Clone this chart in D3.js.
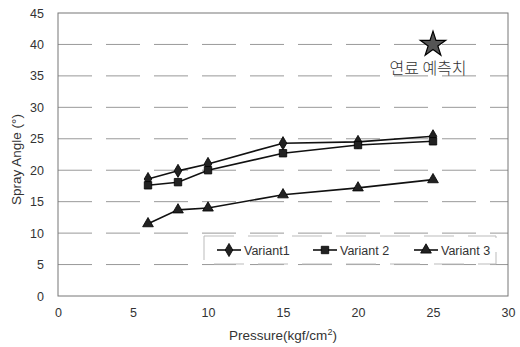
<!DOCTYPE html>
<html>
<head>
<meta charset="utf-8">
<script src="https://cdn.jsdelivr.net/npm/d3@7"></script>
<style>
  body { margin: 0; background: #fff; }
  text { font-family: "Liberation Sans", Arial, sans-serif; fill: #333; }
</style>
</head>
<body>
<div id="chart"></div>
<script>
const pressures = [6, 8, 10, 15, 20, 25];
const variant1 = [18.6, 19.9, 21.0, 24.3, 24.5, 25.4];
const variant2 = [17.6, 18.1, 20.0, 22.7, 24.0, 24.6];
const variant3 = [11.5, 13.7, 14.0, 16.1, 17.2, 18.5];
const seriesNames = ["Variant1", "Variant 2", "Variant 3"];
const xTicks = [0, 5, 10, 15, 20, 25, 30];
const yTicks = [0, 5, 10, 15, 20, 25, 30, 35, 40, 45];
const predicted = { x: 25, y: 40, label: "연료 예측치" };

const width = 520, height = 347;
const margin = { top: 13, right: 12, bottom: 51, left: 58 };

const svg = d3.select("#chart").append("svg")
  .attr("width", width)
  .attr("height", height);

const x = d3.scaleLinear().domain([0, 30]).range([margin.left, width - margin.right]);
const y = d3.scaleLinear().domain([0, 45]).range([height - margin.bottom, margin.top]);

// grid lines
svg.append("g")
  .selectAll("line")
  .data(yTicks.slice(1, -1))
  .join("line")
  .attr("x1", x(0)).attr("x2", x(30))
  .attr("y1", d => y(d)).attr("y2", d => y(d))
  .attr("stroke", "#999")
  .attr("stroke-width", 1)
  .attr("stroke-dasharray", "34,14");

// plot frame
svg.append("rect")
  .attr("x", x(0)).attr("y", y(45))
  .attr("width", x(30) - x(0)).attr("height", y(0) - y(45))
  .attr("fill", "none")
  .attr("stroke", "#777")
  .attr("stroke-width", 1);

// axes
const xAxis = svg.append("g")
  .attr("transform", `translate(0,${y(0)})`)
  .call(d3.axisBottom(x).tickValues(xTicks).tickSize(0).tickPadding(12));
xAxis.select(".domain").remove();
xAxis.selectAll("text").style("font-size", "12.5px").attr("fill", "#333");

const yAxis = svg.append("g")
  .attr("transform", `translate(${x(0)},0)`)
  .call(d3.axisLeft(y).tickValues(yTicks).tickSize(0).tickPadding(14));
yAxis.select(".domain").remove();
yAxis.selectAll("text").style("font-size", "12.5px").attr("fill", "#333");

svg.append("text")
  .attr("x", (x(0) + x(30)) / 2)
  .attr("y", 340)
  .attr("text-anchor", "middle")
  .style("font-size", "13.5px")
  .html('Pressure(kgf/cm<tspan dy="-5" font-size="9px">2</tspan><tspan dy="5">)</tspan>');

svg.append("text")
  .attr("transform", `translate(21,${(y(0) + y(45)) / 2 + 5}) rotate(-90)`)
  .attr("text-anchor", "middle")
  .style("font-size", "13.5px")
  .text("Spray Angle (°)");

// series
const series = [variant1, variant2, variant3].map((vals, i) => ({
  name: seriesNames[i],
  symbol: [d3.symbolDiamond, d3.symbolSquare, d3.symbolTriangle][i],
  size: [50, 55, 50][i],
  points: pressures.map((p, j) => ({ x: p, y: vals[j] }))
}));

const line = d3.line().x(d => x(d.x)).y(d => y(d.y));

const sg = svg.append("g").selectAll("g").data(series).join("g");
sg.append("path")
  .attr("d", d => line(d.points))
  .attr("fill", "none")
  .attr("stroke", "#111")
  .attr("stroke-width", 1.6);
sg.each(function(s) {
  d3.select(this).selectAll("path.pt")
    .data(s.points)
    .join("path")
    .attr("class", "pt")
    .attr("transform", d => `translate(${x(d.x)},${y(d.y)})`)
    .attr("d", d3.symbol().type(s.symbol).size(s.size))
    .attr("fill", "#222")
    .attr("stroke", "#000")
    .attr("stroke-width", 0.8);
});

// predicted star
svg.append("path")
  .attr("transform", `translate(${x(predicted.x)},${y(predicted.y)})`)
  .attr("d", d3.symbol().type(d3.symbolStar).size(200))
  .attr("fill", "#555")
  .attr("stroke", "#000")
  .attr("stroke-width", 1.2);
svg.append("text")
  .attr("x", x(predicted.x) - 5)
  .attr("y", y(predicted.y) + 30)
  .attr("text-anchor", "middle")
  .style("font-family", "'Noto Sans CJK KR', sans-serif")
  .style("font-size", "16px")
  .style("font-weight", "300")
  .attr("fill", "#333")
  .text(predicted.label);

// legend
const legend = svg.append("g");
legend.append("rect")
  .attr("x", 204).attr("y", 236)
  .attr("width", 292).attr("height", 28)
  .attr("fill", "#fff")
  .attr("stroke", "#bbb")
  .attr("stroke-dasharray", "30,14");
const legX = [217, 313, 414];
const li = legend.selectAll("g.item").data(series).join("g")
  .attr("class", "item")
  .attr("transform", (d, i) => `translate(${legX[i]},250)`);
li.append("line")
  .attr("x1", 0).attr("x2", 24)
  .attr("stroke", "#111").attr("stroke-width", 1.6);
li.append("path")
  .attr("transform", "translate(12,0)")
  .attr("d", d => d3.symbol().type(d.symbol).size(d.size)())
  .attr("fill", "#222").attr("stroke", "#000").attr("stroke-width", 0.8);
li.append("text")
  .attr("x", 27).attr("y", 4.5)
  .style("font-size", "12.5px")
  .text(d => d.name);
</script>
</body>
</html>
